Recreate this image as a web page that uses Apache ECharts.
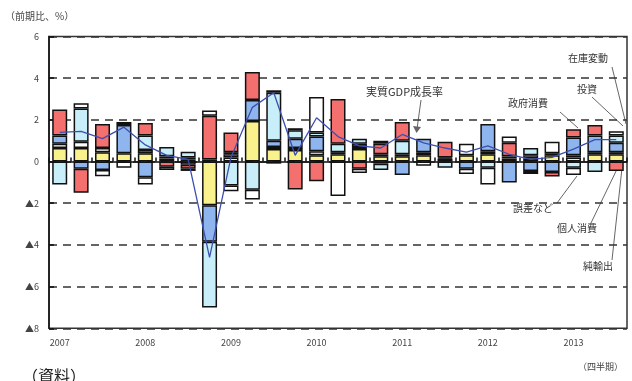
<!DOCTYPE html>
<html>
<head>
<meta charset="utf-8">
<script src="https://cdn.jsdelivr.net/npm/echarts@6/dist/echarts.min.js"></script>
<style>
    html, body { margin: 0; padding: 0; background: #fff; }
    #gdpChart { width: 632px; height: 381px; }
</style>
</head>
<body>
<div id="gdpChart"></div>
<script>
    // 四半期（2007年1-3月期〜2013年7-9月期）
    var quarters = ['2007Q1','2007Q2','2007Q3','2007Q4','2008Q1','2008Q2','2008Q3','2008Q4',
        '2009Q1','2009Q2','2009Q3','2009Q4','2010Q1','2010Q2','2010Q3','2010Q4',
        '2011Q1','2011Q2','2011Q3','2011Q4','2012Q1','2012Q2','2012Q3','2012Q4',
        '2013Q1','2013Q2','2013Q3'];
    var yTickLabels = {'-8': '▲8', '-6': '▲6', '-4': '▲4', '-2': '▲2', '0': '0', '2': '2', '4': '4', '6': '6'};

    // 寄与度（%ポイント）
    var consumption = [0.65,0.65,0.45,0.4,0.4,0.15,0.1,-2.1,0.2,1.95,0.6,0.55,0.3,0.35,0.6,0.25,0.25,0.3,0.15,0.3,0.35,0.15,0.15,0.3,0.2,0.35,0.35];
    var government = [0.2,0.3,0.2,-0.3,0.15,0.1,0.1,0.1,0.15,0,0.1,0.1,0.2,0.1,0.1,0.1,0.1,0.15,0.05,0.55,0.15,0.1,0.15,0.1,0.1,0.1,0.1];
    var investment = [0.4,-0.35,-0.4,1.35,-0.75,0,-0.15,-1.75,0.1,1.0,0.3,0.45,0.7,0,0.15,-0.1,-0.64,0.65,0,-0.35,1.3,-1.0,-0.45,-0.5,0.85,0.8,0.45];
    var inventory = [-1.1,1.6,0,0,0.7,0.45,0.27,-3.15,-1.15,-1.35,2.3,0.4,0.2,0.4,0.25,-0.3,0.65,0,-0.3,0,-0.3,0,0.35,0,-0.3,-0.5,0.35];
    var netExports = [1.25,-1.15,1.15,0,0.6,-0.25,-0.2,2.1,0.95,1.35,-0.1,-1.34,-0.95,2.15,-0.35,0.5,0.9,0,0.75,0,0,0.65,-0.15,-0.22,0.4,0.5,-0.45];
    var residual = [0,0.25,-0.3,0.15,-0.35,-0.15,-0.1,0.25,-0.27,-0.47,0.12,0.1,1.7,-1.65,-0.2,0.15,0,-0.2,0,-0.25,-0.8,0.3,0,0.55,-0.35,0,0.2];
    var gdpGrowth = [1.4,1.45,1.1,1.65,0.8,0.3,0.1,-4.6,0.2,2.6,3.3,0.3,2.1,1.2,0.75,0.65,1.3,0.9,0.65,0.45,0.75,0.35,0.1,0.2,0.6,1.05,1.05];

    var font = '"Noto Sans CJK JP", sans-serif';

    function noZero(arr) {
        return arr.map(function (v) { return v === 0 ? '-' : v; });
    }

    function barSeries(name, data, color) {
        return {
            name: name,
            type: 'bar',
            stack: 'gdp',
            barWidth: 15,
            xAxisIndex: 0,
            itemStyle: {
                color: color,
                borderColor: '#111',
                borderWidth: 1.5
            },
            data: noZero(data)
        };
    }

    var myChart = echarts.init(document.getElementById('gdpChart'));

    var lineColor = '#666';
    var textStyle = { fontFamily: font, fontSize: 10, fill: '#333' };

    var option = {
        animation: false,
        backgroundColor: '#fff',
        grid: {
            left: 49,
            right: 5,
            top: 36.5,
            bottom: 52.7,
            show: true,
            borderColor: '#333',
            borderWidth: 1.5,
            backgroundColor: '#fff'
        },
        xAxis: [
            {
                // 0%の線と目盛り
                type: 'category',
                data: quarters,
                axisLine: { onZero: true, lineStyle: { color: '#111', width: 1.5 } },
                axisTick: { show: true, inside: true, length: 4, interval: 0, lineStyle: { color: '#111', width: 1.5 } },
                axisLabel: { show: false }
            },
            {
                // 年ラベル（下端）
                type: 'category',
                data: quarters,
                position: 'bottom',
                axisLine: { show: false, onZero: false },
                axisTick: { show: false },
                axisLabel: {
                    interval: 0,
                    margin: 10,
                    color: '#444',
                    fontFamily: font,
                    fontSize: 9,
                    formatter: function (v) {
                        return v.slice(4) === 'Q1' ? v.slice(0, 4) : '';
                    }
                }
            }
        ],
        yAxis: {
            type: 'value',
            min: -8,
            max: 6,
            interval: 2,
            axisLine: { show: true, lineStyle: { color: '#111', width: 1.5 } },
            axisTick: { show: true, inside: true, length: 5, lineStyle: { color: '#111', width: 1.5 } },
            axisLabel: {
                margin: 10,
                color: '#444',
                fontFamily: font,
                fontSize: 9,
                formatter: function (v) { return yTickLabels[String(v)]; }
            },
            splitLine: {
                lineStyle: { color: '#333', width: 1.5, type: [8, 6] }
            }
        },
        series: [
            barSeries('個人消費', consumption, '#f8f18c'),
            barSeries('政府消費', government, '#ffffff'),
            barSeries('投資', investment, '#8fb5ee'),
            barSeries('在庫変動', inventory, '#c8eefa'),
            barSeries('純輸出', netExports, '#f4706f'),
            barSeries('誤差など', residual, '#ffffff'),
            {
                name: '実質GDP成長率',
                type: 'line',
                xAxisIndex: 0,
                symbol: 'none',
                z: 5,
                lineStyle: { color: '#3d4fae', width: 1.3 },
                data: gdpGrowth
            }
        ],
        graphic: [
            { type: 'text', left: 5, top: 11, style: { text: '（前期比、%）', fontFamily: font, fontSize: 10, fill: '#444' } },
            { type: 'text', left: 578, top: 362, style: { text: '（四半期）', fontFamily: font, fontSize: 9, fill: '#444' } },
            { type: 'text', left: 22, top: 368, style: { text: '（資料）', fontFamily: font, fontSize: 16, fill: '#222' } },

            // 注記
            { type: 'text', left: 366, top: 86, style: Object.assign({ text: '実質GDP成長率' }, textStyle, { fontSize: 11 }) },
            { type: 'line', shape: { x1: 421, y1: 100, x2: 417, y2: 129 }, style: { stroke: lineColor, lineWidth: 1 } },
            { type: 'polygon', shape: { points: [[413, 126], [421, 127], [416.5, 133]] }, style: { fill: lineColor } },

            { type: 'text', left: 568, top: 53, style: Object.assign({ text: '在庫変動' }, textStyle) },
            { type: 'line', shape: { x1: 612, y1: 67, x2: 626, y2: 124 }, style: { stroke: lineColor, lineWidth: 1 } },

            { type: 'text', left: 577, top: 84, style: Object.assign({ text: '投資' }, textStyle) },
            { type: 'line', shape: { x1: 592, y1: 97, x2: 623, y2: 126 }, style: { stroke: lineColor, lineWidth: 1 } },

            { type: 'text', left: 508, top: 98, style: Object.assign({ text: '政府消費' }, textStyle) },
            { type: 'line', shape: { x1: 560, y1: 112, x2: 578, y2: 128 }, style: { stroke: lineColor, lineWidth: 1 } },

            { type: 'text', left: 513, top: 203, style: Object.assign({ text: '誤差など' }, textStyle) },
            { type: 'line', shape: { x1: 557, y1: 203, x2: 577, y2: 176 }, style: { stroke: lineColor, lineWidth: 1 } },

            { type: 'text', left: 557, top: 223, style: Object.assign({ text: '個人消費' }, textStyle) },
            { type: 'line', shape: { x1: 591, y1: 223, x2: 619, y2: 165 }, style: { stroke: lineColor, lineWidth: 1 } },

            { type: 'text', left: 583, top: 261, style: Object.assign({ text: '純輸出' }, textStyle) },
            { type: 'line', shape: { x1: 612, y1: 260, x2: 622, y2: 168 }, style: { stroke: lineColor, lineWidth: 1 } }
        ]
    };

    myChart.setOption(option);
</script>
</body>
</html>
